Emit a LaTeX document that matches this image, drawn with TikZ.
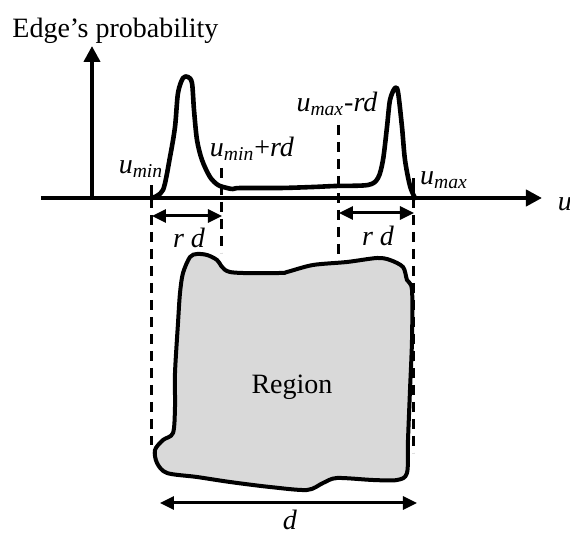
\documentclass[tikz,border=0pt]{standalone}
\usepackage{fontspec}
\setmainfont{Liberation Serif}
\usetikzlibrary{arrows.meta, positioning}

\tikzset{
  axis/.style={line width=2pt, -{Triangle[length=8pt,width=8pt]}},
  guide/.style={line width=1.5pt, dash pattern=on 5pt off 3.5pt},
  tick/.style={line width=1.5pt},
  span/.style={line width=1.5pt, {Triangle[length=7pt,width=6.5pt]}-{Triangle[length=7pt,width=6.5pt]}},
  curve/.style={line width=2.3pt, line join=round, line cap=round},
  blob/.style={line width=2pt, fill=gray!30, line join=round},
  lbl/.style={inner sep=0pt}
}

\begin{document}
\begin{tikzpicture}[x=0.5pt, y=-0.5pt, font=\fontsize{14}{16}\selectfont]
    \useasboundingbox (0,0) rectangle (570,534);

    % axes
    \coordinate (origin) at (92,198);
    \coordinate (xstart) at (41,198);
    \coordinate (xend) at (542,198);
    \coordinate (ytop) at (92,46);
    \draw[axis] (xstart) -- (xend);
    \draw[axis] (origin) -- (ytop);
    \node[lbl, anchor=west] (ylabel) at (12,31) {Edge’s probability};
    \node[lbl] (xlabel) at (565,204) {\textit{u}};

    % region
    \draw[blob] plot[smooth cycle, tension=0.5] coordinates {
        (190,257) (183,273) (180,293) (178,323) (175,373) (175,407) (173,433)
        (163,440) (155,450) (157,463) (167,473) (197,477) (230,482) (270,487)
        (307,490) (323,483) (337,478) (373,480) (397,480) (407,473) (408,440)
        (410,390) (412,340) (412,290) (407,280) (403,267) (390,260) (377,258)
        (347,262) (313,265) (287,272) (280,273) (230,272) (217,260) (207,255)
        (197,254)};
    \node[lbl] (region) at (292,387) {Region};

    % edge probability
    \draw[curve] plot[smooth, tension=0.5] coordinates {
        (152,198) (163,190) (170,157) (175,127) (178,93) (183,78) (188,77)
        (192,83) (194,110) (197,140) (202,160) (210,177) (218,185) (227,188)
        (233,189) (240,188) (280,188) (313,187) (335,186) (368,185)
        (378,178) (383,160) (387,127) (390,100) (395,88) (398,92) (402,127)
        (405,160) (410,186) (415,198)};

    % bounds
    \coordinate (umin) at (152,198);
    \coordinate (uminrd) at (222,198);
    \coordinate (umaxrd) at (339,198);
    \coordinate (umax) at (414,198);
    \draw[tick] (umin) -- ++(0,-13);
    \draw[tick] (umax) -- ++(0,-20);
    \draw[guide] (umin) -- ++(0,247);
    \draw[guide] (uminrd) ++(0,-30) -- ++(0,85);
    \draw[guide] (umaxrd) ++(0,-73) -- ++(0,138);
    \draw[guide] (umax) -- ++(0,255);

    \node[lbl] (lmin) at (141,169) {\textit{u}\textsubscript{\textit{min}}};
    \node[lbl] (lminrd) at (252,149) {\textit{u}\textsubscript{\textit{min}}+\textit{rd}};
    \node[lbl] (lmaxrd) at (337,104) {\textit{u}\textsubscript{\textit{max}}-\textit{rd}};
    \node[lbl] (lmax) at (444,180) {\textit{u}\textsubscript{\textit{max}}};

    % widths
    \coordinate (rdla) at (152,216);
    \coordinate (rdlb) at (222,216);
    \coordinate (rdra) at (339,213);
    \coordinate (rdrb) at (414,213);
    \coordinate (da) at (160,503);
    \coordinate (db) at (417,503);
    \draw[span] (rdla) -- (rdlb);
    \draw[span] (rdra) -- (rdrb);
    \draw[span] (da) -- (db);
    \node[lbl] (rdl) at (189,238) {\textit{r d}};
    \node[lbl] (rdr) at (378,236) {\textit{r d}};
    \node[lbl] (dlabel) at (290,520) {\textit{d}};
\end{tikzpicture}
\end{document}
